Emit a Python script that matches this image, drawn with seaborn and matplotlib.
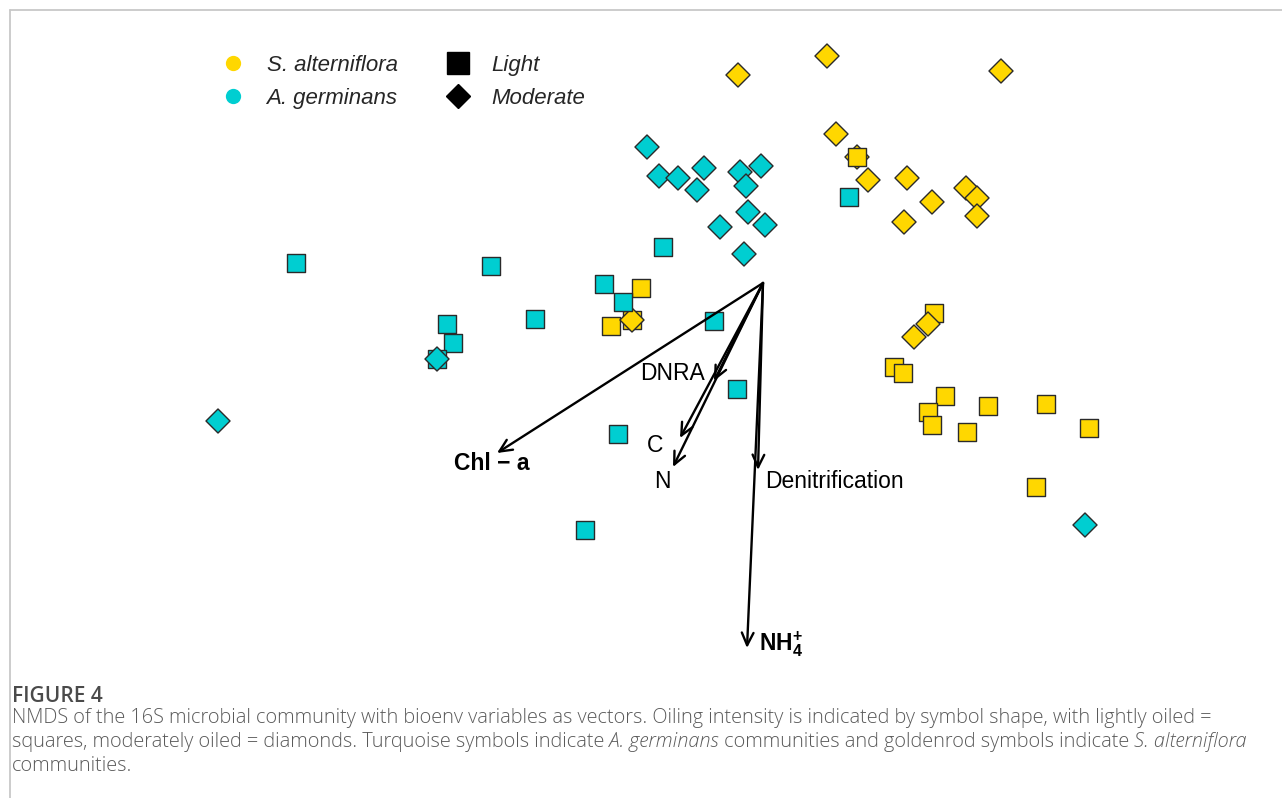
import matplotlib
matplotlib.use("Agg")
import matplotlib.pyplot as plt
from matplotlib.lines import Line2D
import pandas as pd
import seaborn as sns

# NMDS site scores, S. alterniflora (listed in plotting order)
sa_nmds1 = [-0.100, 0.256, 0.952, 0.292, 0.376, 0.376, 0.420, 0.576, 0.676, 0.564,
            0.812, 0.856, 0.856, -0.488, -0.608, -0.524, -0.524, 0.684, 0.660, 0.604,
            0.524, 0.560, 0.728, 0.660, 0.676, 0.900, 0.816, 1.132, 1.304, 1.092]
sa_nmds2 = [0.832, 0.908, 0.848, 0.596, 0.504, 0.504, 0.412, 0.420, 0.324, 0.244,
            0.380, 0.340, 0.268, -0.020, -0.172, -0.148, -0.148, -0.120, -0.164, -0.216,
            -0.336, -0.360, -0.452, -0.516, -0.568, -0.492, -0.596, -0.484, -0.580, -0.816]
sa_oiling = ["Moderate", "Moderate", "Moderate", "Moderate", "Moderate", "Light",
             "Moderate", "Moderate", "Moderate", "Moderate", "Moderate", "Moderate",
             "Moderate", "Light", "Light", "Light", "Moderate", "Light", "Moderate",
             "Moderate", "Light", "Light", "Light", "Light", "Light", "Light", "Light",
             "Light", "Light", "Light"]

# NMDS site scores, A. germinans
ag_nmds1 = [-0.464, -0.416, -0.340, -0.236, -0.264, -0.092, -0.008, -0.068, -0.060,
            -0.172, 0.008, -0.076, -1.868, -1.088, -0.400, 0.344, -0.636, -0.560,
            -0.912, -1.264, -1.240, -1.304, -1.304, -0.196, -0.104, -0.580, -0.712,
            -2.180, 1.288]
ag_nmds2 = [0.544, 0.428, 0.420, 0.460, 0.372, 0.444, 0.468, 0.388, 0.284,
            0.224, 0.232, 0.116, 0.080, 0.068, 0.144, 0.344, -0.004, -0.076,
            -0.144, -0.164, -0.240, -0.304, -0.304, -0.152, -0.424, -0.604, -0.988,
            -0.552, -0.968]
ag_oiling = ["Moderate"] * 12 + ["Light"] * 9 + ["Light", "Moderate"] + ["Light"] * 4 + \
            ["Moderate", "Moderate"]

# bioenv vectors fitted onto the ordination
vec_names = ["Chl-a", "DNRA", "C", "N", "Denitrification", "NH4"]
vec_nmds1 = [-1.064, -0.196, -0.332, -0.360, -0.020, -0.064]
vec_nmds2 = [-0.680, -0.392, -0.620, -0.736, -0.748, -1.460]

species_order = ["S. alterniflora", "A. germinans"]
oiling_order = ["Light", "Moderate"]

sites = pd.concat([
    pd.DataFrame({"NMDS1": sa_nmds1, "NMDS2": sa_nmds2,
                  "Species": species_order[0], "Oiling": sa_oiling}),
    pd.DataFrame({"NMDS1": ag_nmds1, "NMDS2": ag_nmds2,
                  "Species": species_order[1], "Oiling": ag_oiling}),
], ignore_index=True)

vectors = pd.DataFrame({"name": vec_names, "NMDS1": vec_nmds1, "NMDS2": vec_nmds2})

sns.set_theme(style="white")
plt.rcParams["font.family"] = ["Liberation Sans", "DejaVu Sans"]
plt.rcParams["mathtext.fontset"] = "custom"
plt.rcParams["mathtext.rm"] = "Liberation Sans"
plt.rcParams["mathtext.bf"] = "Liberation Sans:bold"

palette = {"S. alterniflora": "#FFD700", "A. germinans": "#00CED1"}
markers = {"Light": "s", "Moderate": "D"}

W, H = 1282, 798
fig = plt.figure(figsize=(W / 100, H / 100), dpi=100)
ax = fig.add_axes([0, 0, 1, 1])
ax.set_xlim(-3.052, 2.076)
ax.set_ylim(-2.060, 1.132)
ax.set_axis_off()

sns.scatterplot(data=sites, x="NMDS1", y="NMDS2", hue="Species", style="Oiling",
                palette=palette, markers=markers, hue_order=species_order,
                style_order=oiling_order, s=150, edgecolor="#2a2a2a",
                linewidth=1.0, legend=False, ax=ax, zorder=2)

# envfit arrows
for _, v in vectors.iterrows():
    ax.annotate("", xy=(v.NMDS1, v.NMDS2), xytext=(0, 0),
                arrowprops=dict(arrowstyle="->,head_length=0.75,head_width=0.35",
                                lw=1.7, color="black", shrinkA=0, shrinkB=0),
                zorder=3)

label_style = {
    "Chl-a": dict(text="Chl \u2212 a", dx=-0.020, dy=-0.040, ha="center", weight="bold"),
    "DNRA": dict(text="DNRA", dx=-0.168, dy=0.032, ha="center", weight="normal"),
    "C": dict(text="C", dx=-0.100, dy=-0.028, ha="center", weight="normal"),
    "N": dict(text="N", dx=-0.044, dy=-0.056, ha="center", weight="normal"),
    "Denitrification": dict(text="Denitrification", dx=0.028, dy=-0.044, ha="left",
                            weight="normal"),
    "NH4": dict(text=r"$\mathbf{NH}_{\mathbf{4}}^{\mathbf{+}}$", dx=0.048, dy=0.016,
                ha="left", weight="bold"),
}
for _, v in vectors.iterrows():
    st = label_style[v["name"]]
    ax.text(v.NMDS1 + st["dx"], v.NMDS2 + st["dy"], st["text"], ha=st["ha"],
            va="center", fontsize=16.5, fontweight=st["weight"], color="black",
            zorder=4)

# legend
handles = [
    Line2D([], [], ls="", marker="o", ms=11, mfc=palette["S. alterniflora"], mec="none"),
    Line2D([], [], ls="", marker="o", ms=11, mfc=palette["A. germinans"], mec="none"),
    Line2D([], [], ls="", marker="s", ms=16.5, mfc="black", mec="black"),
    Line2D([], [], ls="", marker="D", ms=12.5, mfc="black", mec="black"),
]
labels = species_order + oiling_order
fig.legend(handles, labels, ncol=2, loc="upper left",
           bbox_to_anchor=(211 / W, 1 - 44 / H), frameon=False, borderpad=0,
           handlelength=1.0, handletextpad=1.0, columnspacing=2.2,
           labelspacing=0.52,
           prop={"family": "Liberation Sans", "style": "italic", "size": 16})

# figure border
border = "#c8c8c8"
fig.add_artist(Line2D([9.5 / W, 1], [1 - 9.5 / H] * 2, transform=fig.transFigure,
                      color=border, lw=1.3))
fig.add_artist(Line2D([9.5 / W] * 2, [0, 1 - 9.5 / H], transform=fig.transFigure,
                      color=border, lw=1.3))

# caption
cap_color = "#5a5a5a"
cap_font = ["Open Sans", "DejaVu Sans"]
fig.text(12 / W, 1 - 697 / H, "FIGURE 4", family=cap_font, fontsize=15,
         fontweight="semibold", color="#4a4a4a", va="center", ha="left")

caption_lines = [
    [("NMDS of the 16S microbial community with bioenv variables as vectors. Oiling "
      "intensity is indicated by symbol shape, with lightly oiled =", "normal")],
    [("squares, moderately oiled = diamonds. Turquoise symbols indicate", "normal"),
     (" A. germinans", "italic"),
     (" communities and goldenrod symbols indicate", "normal"),
     (" S. alterniflora", "italic")],
    [("communities.", "normal")],
]
caption_y = [718, 742, 766]
renderer = fig.canvas.get_renderer()
for pieces, ypx in zip(caption_lines, caption_y):
    xpx = 12
    for txt, style in pieces:
        t = fig.text(xpx / W, 1 - ypx / H, txt, family=cap_font, fontsize=14.3,
                     style=style, fontweight="light", color=cap_color,
                     va="center", ha="left")
        bb = t.get_window_extent(renderer)
        xpx = bb.x1

fig.savefig("out.png", dpi=100, facecolor="white")
